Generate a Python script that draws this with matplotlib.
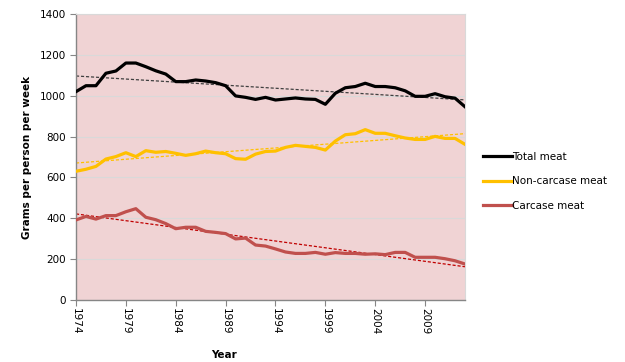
import matplotlib.pyplot as plt
import numpy as np

years = list(range(1974, 2014))

total_meat = [1020, 1049, 1049, 1110, 1121, 1160, 1160, 1142, 1122, 1106,
              1069, 1069, 1077, 1072, 1064, 1049, 999, 992, 982, 992,
              979, 984, 989, 984, 982, 958, 1012, 1039, 1045, 1061,
              1045, 1045, 1039, 1024, 997, 997, 1010, 995, 988, 946]

non_carcase = [630, 640, 654, 690, 702, 721, 702, 731, 723, 727,
               718, 708, 716, 729, 721, 716, 692, 689, 714, 727,
               729, 747, 757, 752, 747, 734, 778, 809, 814, 834,
               816, 816, 804, 793, 786, 786, 801, 791, 791, 762]

carcase = [392, 409, 396, 413, 413, 432, 447, 405, 393, 374,
           349, 356, 356, 336, 331, 325, 299, 303, 269, 264,
           250, 235, 228, 228, 233, 224, 232, 228, 228, 224,
           226, 222, 233, 233, 209, 209, 209, 202, 192, 176]

series = [
    ('Total meat', total_meat, '#000000', '#404040'),
    ('Non-carcase meat', non_carcase, '#FFC000', '#FFC000'),
    ('Carcase meat', carcase, '#C0504D', '#C00000'),
]

fig = plt.figure(figsize=(6.25, 3.62), dpi=100)
ax = fig.add_axes([0.1216, 0.1713, 0.6224, 0.79])
ax.set_facecolor('#F0D3D4')

x = np.array(years)
for name, vals, col, tcol in series:
    ax.plot(x, vals, color=col, lw=2.3, label=name, solid_joinstyle='round', zorder=3)
    # linear trendline like the spreadsheet one
    k, b = np.polyfit(x, vals, 1)
    ax.plot(x, k * x + b, color=tcol, lw=0.9, ls=(0, (2.5, 1.5)), zorder=2)

ax.set_xlim(1974, 2013)
ax.set_ylim(0, 1400)
ax.set_yticks(range(0, 1401, 200))
ax.set_xticks(range(1974, 2010, 5))
ax.set_xticklabels([str(y) for y in range(1974, 2010, 5)], rotation=-90)
ax.grid(axis='y', color='#D9D9D9', lw=0.8)
ax.set_axisbelow(True)

for s in ['top', 'right']:
    ax.spines[s].set_color('#D9D9D9')
    ax.spines[s].set_linewidth(0.8)
for s in ['left', 'bottom']:
    ax.spines[s].set_color('#868686')
    ax.spines[s].set_linewidth(1.0)

ax.tick_params(axis='both', labelsize=7.5, colors='#868686', labelcolor='#000000', length=4)
ax.tick_params(axis='x', pad=2)

ax.set_ylabel('Grams per person per week', fontsize=7.5, fontweight='bold', labelpad=5)
ax.set_xlabel('Year', fontsize=7.5, fontweight='bold')
ax.xaxis.set_label_coords(0.38, -0.175)

handles = ax.get_lines()[0::2]
fig.legend(handles, [s[0] for s in series], loc='upper left', bbox_to_anchor=(0.757, 0.607),
           frameon=False, fontsize=7.5, handlelength=2.8, handletextpad=0.0, labelspacing=1.4)

fig.savefig('out.png', dpi=100)
